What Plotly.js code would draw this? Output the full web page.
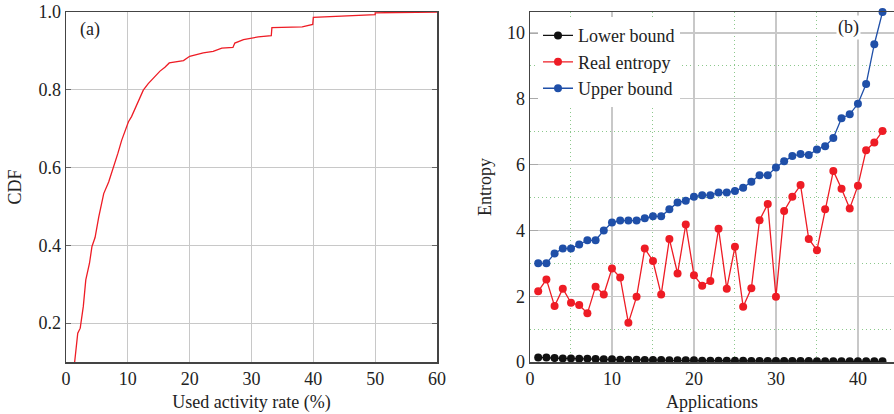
<!DOCTYPE html>
<html>
<head>
<meta charset="utf-8">
<script src="https://cdn.plot.ly/plotly-3.0.1.min.js"></script>
<style>html,body{margin:0;padding:0;background:#fff;}#chart{width:894px;height:414px;}</style>
</head>
<body>
<div id="chart"></div>
<script>
// Panel (a): CDF of used activity rate (%)
const cdfX = [1.4, 1.9, 2.3, 2.8, 3.2, 3.8, 4.2, 4.7, 5.3, 5.7, 6.1, 6.9, 7.7, 8.4, 9.0, 9.6, 10.1, 10.6, 11.3, 12.0, 12.5, 13.3, 14.4, 15.2, 16.0, 16.7, 19.0, 20.0, 22.2, 23.8, 25.2, 27.0, 27.3, 28.7, 31.1, 33.2, 33.3, 38.2, 39.9, 40.0, 50.0, 50.0, 60.0];
const cdfY = [0.10, 0.174, 0.187, 0.243, 0.311, 0.354, 0.397, 0.42, 0.473, 0.507, 0.533, 0.563, 0.60, 0.637, 0.67, 0.696, 0.718, 0.731, 0.756, 0.777, 0.799, 0.816, 0.834, 0.848, 0.858, 0.869, 0.875, 0.886, 0.895, 0.899, 0.907, 0.909, 0.92, 0.929, 0.936, 0.939, 0.96, 0.962, 0.968, 0.986, 0.993, 0.998, 1.0];

// Panel (b): entropy per application
const apps = [1,2,3,4,5,6,7,8,9,10,11,12,13,14,15,16,17,18,19,20,21,22,23,24,25,26,27,28,29,30,31,32,33,34,35,36,37,38,39,40,41,42,43];
const lowerBound = [0.14,0.14,0.12,0.11,0.11,0.10,0.10,0.09,0.08,0.08,0.07,0.07,0.07,0.06,0.06,0.06,0.05,0.05,0.05,0.05,0.04,0.04,0.04,0.04,0.04,0.04,0.03,0.03,0.03,0.03,0.03,0.03,0.03,0.03,0.02,0.02,0.02,0.02,0.02,0.02,0.02,0.02,0.02];
const realEntropy = [2.15,2.51,1.70,2.23,1.80,1.73,1.48,2.29,2.05,2.84,2.57,1.19,1.98,3.45,3.07,2.05,3.74,2.69,4.18,2.64,2.32,2.46,4.05,2.23,3.50,1.68,2.24,4.31,4.80,1.98,4.59,5.02,5.38,3.74,3.40,4.64,5.81,5.27,4.67,5.36,6.44,6.67,7.02];
const upperBound = [3.00,3.00,3.30,3.45,3.45,3.57,3.70,3.70,4.00,4.24,4.30,4.30,4.30,4.37,4.43,4.43,4.64,4.85,4.90,5.02,5.07,5.07,5.15,5.15,5.20,5.30,5.48,5.68,5.68,5.91,6.10,6.26,6.32,6.29,6.46,6.56,6.81,7.41,7.53,7.85,8.45,9.66,10.64];

const seriesNames = ["Lower bound", "Real entropy", "Upper bound"];
const xTitleA = "Used activity rate (%)";
const yTitleA = "CDF";
const xTitleB = "Applications";
const yTitleB = "Entropy";

const RED = "#ee1c25", BLUE = "#1f4fa8", BLACK = "#111111";
const FONT = "'Liberation Serif', 'Times New Roman', serif";
const FS = 18;

const traces = [
  {x: cdfX, y: cdfY, xaxis: "x", yaxis: "y", mode: "lines", line: {color: RED, width: 1.3}, showlegend: false, hoverinfo: "skip"},
  {x: apps, y: lowerBound, xaxis: "x2", yaxis: "y2", mode: "lines+markers", name: seriesNames[0], line: {color: BLACK, width: 1.3}, marker: {color: BLACK, size: 8}},
  {x: apps, y: realEntropy, xaxis: "x2", yaxis: "y2", mode: "lines+markers", name: seriesNames[1], line: {color: RED, width: 1.3}, marker: {color: RED, size: 8}},
  {x: apps, y: upperBound, xaxis: "x2", yaxis: "y2", mode: "lines+markers", name: seriesNames[2], line: {color: BLUE, width: 1.3}, marker: {color: BLUE, size: 8}, cliponaxis: false}
];

const axisLine = {showline: true, linecolor: "#444", linewidth: 1.5, zeroline: false, tickfont: {family: FONT, size: FS, color: "#222"}};
const minorGrid = {showgrid: true, gridcolor: "#8cc88c", griddash: "1px,3px", gridwidth: 1};

const layout = {
  width: 894, height: 414,
  margin: {l: 0, r: 0, t: 12, b: 52},
  paper_bgcolor: "#fff", plot_bgcolor: "#fff",
  font: {family: FONT, size: FS, color: "#222"},
  xaxis: Object.assign({}, axisLine, {
    domain: [66/894, 437/894], range: [0, 60], dtick: 10, tick0: 0,
    showgrid: true, gridcolor: "#c8c8c8", gridwidth: 1.2, mirror: true,
    ticks: "", title: {text: xTitleA, font: {family: FONT, size: FS}, standoff: 7}
  }),
  yaxis: Object.assign({}, axisLine, {
    domain: [0, 1], range: [0.1, 1.0], dtick: 0.2, tick0: 0, tickformat: ".1f",
    showgrid: true, gridcolor: "#c8c8c8", gridwidth: 1.2, mirror: "allticks",
    ticks: "inside", ticklen: 5, tickcolor: "#666",
    title: {text: yTitleA, font: {family: FONT, size: FS}, standoff: 12}
  }),
  xaxis2: Object.assign({}, axisLine, {
    anchor: "y2", domain: [530/894, 1], range: [0, 44.4], dtick: 10, tick0: 0,
    showgrid: true, gridcolor: "#c8c8c8", gridwidth: 1.2, mirror: true, ticks: "",
    minor: Object.assign({dtick: 5}, minorGrid),
    title: {text: xTitleB, font: {family: FONT, size: FS}, standoff: 7}
  }),
  yaxis2: Object.assign({}, axisLine, {
    anchor: "x2", domain: [0, 1], range: [0, 10.64], dtick: 2, tick0: 0,
    showgrid: true, gridcolor: "#c8c8c8", gridwidth: 1.2, mirror: false,
    ticks: "inside", ticklen: 8, tickcolor: "#aaa",
    minor: Object.assign({dtick: 1}, minorGrid),
    title: {text: yTitleB, font: {family: FONT, size: FS}, standoff: 10}
  }),
  showlegend: true,
  legend: {x: 538/894, xanchor: "left", y: 0.985, yanchor: "top", bgcolor: "#fff", borderwidth: 0,
           font: {family: FONT, size: FS, color: "#222"}, tracegroupgap: 0, itemwidth: 30},
  annotations: [
    {xref: "x", yref: "y", x: 3.9, y: 0.954, text: "(a)", showarrow: false, font: {family: FONT, size: FS, color: "#222"}},
    {xref: "x2", yref: "y2", x: 38.8, y: 10.18, text: "(b)", showarrow: false, bgcolor: "#fff", font: {family: FONT, size: FS, color: "#222"}}
  ]
};

Plotly.newPlot("chart", traces, layout, {displayModeBar: false, staticPlot: true});
</script>
</body>
</html>
